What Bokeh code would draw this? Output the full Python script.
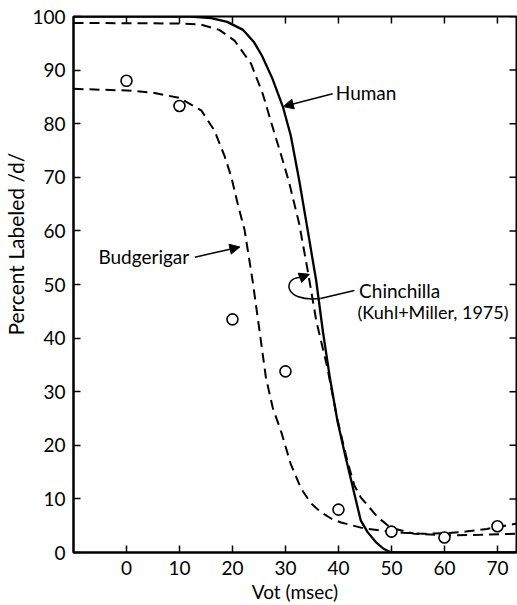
import math
from bokeh.plotting import figure
from bokeh.models import Range1d, FixedTicker, Label, Arrow, NormalHead
from bokeh.embed import file_html
from bokeh.resources import INLINE

# ---- data ----
x_ticks = [0, 10, 20, 30, 40, 50, 60, 70]
y_ticks = [0, 10, 20, 30, 40, 50, 60, 70, 80, 90, 100]

human_x = [-10, 12, 16, 19, 22, 24, 25.5, 27.5, 29.5, 31, 32.6, 34.2, 35.8, 37.1, 38.4,
           39.8, 41.3, 42.7, 44.2, 45.5, 47, 48.5, 50, 73.6]
human_y = [100, 100, 99.7, 99.0, 97.5, 95.3, 92.8, 88.5, 83.2, 77.8, 69.4, 60.1, 50.7, 41.0, 32.5,
           24.6, 18.0, 12.2, 6.0, 3.8, 2.0, 0.7, 0, 0]

chin_x = [-10, 10, 14, 17.5, 20.4, 23.5, 25.7, 27.6, 29.5, 30.7, 32.6, 34.2, 35.8, 37.9,
          39.8, 41.7, 43, 44.2, 47.4, 49.9, 54.3, 60.5, 66.8, 73.6]
chin_y = [98.8, 98.7, 98.5, 97.5, 95.5, 91.2, 85.6, 79.3, 73.1, 69.0, 61.3, 52.6, 43.3, 34.5,
          24.8, 17.0, 12.5, 10.3, 6.6, 4.6, 3.5, 3.2, 3.3, 3.5]

budg_x = [-10, 0, 5, 10, 14.1, 16.6, 18.5, 19.8, 21, 22.3, 23.8, 25.1, 26.3, 27.6, 29.2,
          31, 32.9, 34.8, 36.7, 38.7, 40.5, 44.8, 48, 52, 56, 60, 64, 68, 71, 73.6]
budg_y = [86.5, 86.2, 85.8, 84.8, 82.5, 78.7, 74.0, 70.0, 65.0, 60.1, 50.7, 41.4, 32.7, 27.0, 22.5,
          16.5, 12.0, 9.2, 7.5, 6.3, 5.6, 4.5, 4.1, 3.7, 3.5, 3.6, 3.9, 4.4, 4.9, 5.4]

pts_x = [0, 10, 20, 30, 40, 50, 60, 70]
pts_y = [88, 83.3, 43.5, 33.8, 8.0, 3.9, 2.8, 4.9]

X0, X1 = -10, 73.6
Y0, Y1 = 0, 100

FONT = "Lato"
FS = "19px"

p = figure(width=517, height=605, x_range=Range1d(X0, X1), y_range=Range1d(Y0, Y1),
           output_backend="svg", toolbar_location=None,
           min_border_left=72, min_border_right=1, min_border_top=16, min_border_bottom=53)
p.xgrid.visible = False
p.ygrid.visible = False
p.outline_line_color = "black"
p.outline_line_width = 2
p.background_fill_color = "white"
p.border_fill_color = "white"

p.xaxis.ticker = FixedTicker(ticks=x_ticks)
p.yaxis.ticker = FixedTicker(ticks=y_ticks)

for ax in p.axis:
    ax.axis_line_width = 2
    ax.axis_line_color = "black"
    ax.major_tick_in = 7
    ax.major_tick_out = 0
    ax.minor_tick_in = 0
    ax.minor_tick_out = 0
    ax.major_tick_line_width = 1.5
    ax.major_tick_line_color = "black"
    ax.major_label_text_font = FONT
    ax.major_label_text_font_size = FS
    ax.major_label_text_color = "black"
    ax.axis_label_text_font = FONT
    ax.axis_label_text_font_size = FS
    ax.axis_label_text_font_style = "normal"
    ax.axis_label_text_color = "black"

p.xaxis.major_label_standoff = 8
p.xaxis.axis_label = "Vot (msec)"
p.xaxis.axis_label_standoff = 2
p.yaxis.major_label_standoff = 8
p.yaxis.axis_label = "\u00a0" * 15 + "Percent Labeled /d/"
p.yaxis.axis_label_text_font_size = "21px"
p.yaxis.axis_label_standoff = 1

# inward ticks on the top and right frame edges (7 px long)
top_len = 7 * (Y1 - Y0) / 536
right_len = 7 * (X1 - X0) / 444
p.segment(x0=x_ticks, y0=[Y1] * len(x_ticks), x1=x_ticks, y1=[Y1 - top_len] * len(x_ticks),
          line_color="black", line_width=1.5)
p.segment(x0=[X1] * len(y_ticks), y0=y_ticks, x1=[X1 - right_len] * len(y_ticks), y1=y_ticks,
          line_color="black", line_width=1.5)

# curves
p.line(human_x, human_y, line_color="black", line_width=2.3)
p.line(chin_x, chin_y, line_color="black", line_width=2, line_dash="10 6")
p.line(budg_x, budg_y, line_color="black", line_width=2, line_dash="10 6")
p.scatter(pts_x, pts_y, marker="circle", size=11, fill_color="white",
          line_color="black", line_width=1.6)

# text annotations
def lab(x, y, t, fs=FS, **kw):
    p.add_layout(Label(x=x, y=y, text=t, text_font=FONT, text_font_size=fs,
                       text_color="black", text_baseline="middle", **kw))

lab(39.5, 85.8, "Human")
lab(-5.3, 55.3, "Budgerigar")
lab(43.9, 48.9, "Chinchilla")
lab(43.6, 44.8, "(Kuhl+Miller, 1975)", fs="18px")

# arrows
def arr(x0, y0, x1, y1):
    p.add_layout(Arrow(x_start=x0, y_start=y0, x_end=x1, y_end=y1, line_width=1.5,
                       line_color="black",
                       end=NormalHead(size=10, fill_color="black", line_color="black", line_width=1)))

arr(38.9, 85.6, 29.6, 83.2)
arr(12.9, 55.1, 21.4, 57.0)

# chinchilla hook pointer
p.line([43.0, 36.6], [48.9, 47.4], line_color="black", line_width=1.5)
p.bezier(x0=[36.6], y0=[47.4], x1=[33.0], y1=[51.3], cx0=[29.2], cy0=[46.6], cx1=[29.6], cy1=[51.6],
         line_color="black", line_width=1.5)
arr(32.9, 51.3, 34.5, 51.9)

open("out.html", "w").write(file_html(p, INLINE))
